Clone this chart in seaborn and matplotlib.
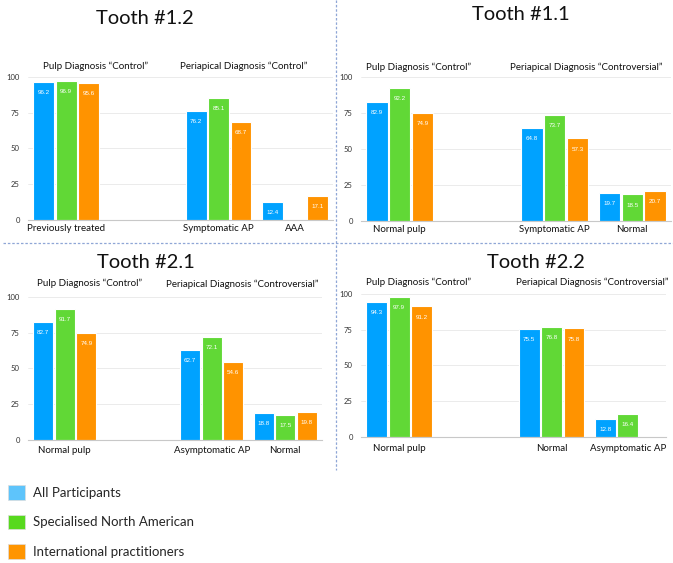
import matplotlib
matplotlib.use("Agg")
import matplotlib.pyplot as plt
from matplotlib.patches import Patch
from matplotlib.lines import Line2D
import seaborn as sns
import pandas as pd

# ---------------- data ----------------
groups = ["All Participants", "Specialised North American", "International practitioners"]
bar_colors = ["#00A2FF", "#61D836", "#FF9300"]
legend_colors = ["#5EC4FB", "#57D91E", "#FF9500"]

t12_title = "Tooth #1.2"
t12_cats = ["Previously treated", "Symptomatic AP", "AAA"]
t12_all = [96.2, 76.2, 12.4]
t12_na = [96.9, 85.1, None]
t12_int = [95.6, 68.7, 17.1]
t12_sub = ["Pulp Diagnosis \u201cControl\u201d", "Periapical Diagnosis \u201cControl\u201d"]

t11_title = "Tooth #1.1"
t11_cats = ["Normal pulp", "Symptomatic AP", "Normal"]
t11_all = [82.9, 64.8, 19.7]
t11_na = [92.2, 73.7, 18.5]
t11_int = [74.9, 57.3, 20.7]
t11_sub = ["Pulp Diagnosis \u201cControl\u201d", "Periapical Diagnosis \u201cControversial\u201d"]

t21_title = "Tooth #2.1"
t21_cats = ["Normal pulp", "Asymptomatic AP", "Normal"]
t21_all = [82.7, 62.7, 18.8]
t21_na = [91.7, 72.1, 17.5]
t21_int = [74.9, 54.6, 19.8]
t21_sub = ["Pulp Diagnosis \u201cControl\u201d", "Periapical Diagnosis \u201cControversial\u201d"]

t22_title = "Tooth #2.2"
t22_cats = ["Normal pulp", "Normal", "Asymptomatic AP"]
t22_all = [94.3, 75.5, 12.8]
t22_na = [97.9, 76.8, 16.4]
t22_int = [91.2, 75.8, None]
t22_sub = ["Pulp Diagnosis \u201cControl\u201d", "Periapical Diagnosis \u201cControversial\u201d"]

y_ticks = [0, 25, 50, 75, 100]

# ---------------- style ----------------
sns.set_style("white")
plt.rcParams["font.family"] = ["Lato", "DejaVu Sans"]

W, H = 673, 563
fig = plt.figure(figsize=(W / 100, H / 100), dpi=100)


def px_ax(l, r, y0, y100):
    # pixel box -> figure fraction
    return [l / W, 1 - y0 / H, (r - l) / W, (y0 - y100) / H]


panels = [
    dict(title=t12_title, cats=t12_cats, vals=[t12_all, t12_na, t12_int], sub=t12_sub,
         box=px_ax(28, 333, 220, 76), tpos=(145, 18), spos=[(96, 66), (244, 66)], pad=3),
    dict(title=t11_title, cats=t11_cats, vals=[t11_all, t11_na, t11_int], sub=t11_sub,
         box=px_ax(361, 671, 221, 76), tpos=(521, 15), spos=[(419, 67), (586, 67)], pad=3),
    dict(title=t21_title, cats=t21_cats, vals=[t21_all, t21_na, t21_int], sub=t21_sub,
         box=px_ax(28, 322, 440, 296), tpos=(146, 263), spos=[(90, 283), (242, 284)], pad=4),
    dict(title=t22_title, cats=t22_cats, vals=[t22_all, t22_na, t22_int], sub=t22_sub,
         box=px_ax(361, 666, 437, 293), tpos=(536, 262), spos=[(419, 282), (592, 282)], pad=5),
]

for p in panels:
    ax = fig.add_axes(p["box"])
    rows = []
    for g, series in zip(groups, p["vals"]):
        for c, v in zip(p["cats"], series):
            if v is not None:
                rows.append({"cat": c, "group": g, "value": v})
    df = pd.DataFrame(rows)
    order = [p["cats"][0], " ", p["cats"][1], p["cats"][2]]
    sns.barplot(data=df, x="cat", y="value", hue="group", order=order,
                hue_order=groups, palette=bar_colors, saturation=1, width=0.88, gap=0.07,
                edgecolor="white", linewidth=0.8, legend=False, ax=ax)
    for cont in ax.containers:
        ax.bar_label(cont, fmt="%.1f", label_type="edge", padding=-9.5,
                     color="white", fontsize=4.5, family=["Liberation Sans"])
    ax.set_xlim(-0.5, 3.5)
    ax.set_ylim(0, 100.6)
    ax.set_yticks(y_ticks)
    ax.set_yticklabels([str(t) for t in y_ticks])
    ax.set_xlabel("")
    ax.set_ylabel("")
    ax.grid(axis="y", color="#e8e8e8", linewidth=0.6)
    ax.set_axisbelow(True)
    for s in ["top", "right", "left"]:
        ax.spines[s].set_visible(False)
    ax.spines["bottom"].set_color("#c8c8c8")
    ax.spines["bottom"].set_linewidth(0.8)
    ax.tick_params(axis="y", length=0, labelsize=5.5, labelcolor="#333333", pad=6)
    ax.tick_params(axis="x", length=0, labelsize=7, labelcolor="#111111", pad=p["pad"])
    fig.text(p["tpos"][0] / W, 1 - p["tpos"][1] / H, p["title"], ha="center", va="center",
             fontsize=14.5, color="#111111")
    for (sx, sy), st in zip(p["spos"], p["sub"]):
        fig.text(sx / W, 1 - sy / H, st, ha="center", va="center", fontsize=7,
                 color="#111111")

# dashed dividers
fig.add_artist(Line2D([0.005, 1.0], [1 - 243 / H, 1 - 243 / H], transform=fig.transFigure,
                      color="#8FA6D6", linewidth=0.9, linestyle=(0, (2, 1.5))))
fig.add_artist(Line2D([336 / W, 336 / W], [1.0, 1 - 470 / H], transform=fig.transFigure,
                      color="#8FA6D6", linewidth=0.9, linestyle=(0, (2, 1.5))))

# legend
handles = [Patch(facecolor=c, edgecolor="#dddddd", linewidth=0.5) for c in legend_colors]
fig.legend(handles, groups, loc="upper left", bbox_to_anchor=(-0.002, 1 - 476 / H),
           frameon=False, fontsize=9.5, handlelength=1.3, handleheight=1.3,
           labelspacing=1.15, handletextpad=0.6, borderaxespad=0.3)

fig.savefig("out.png", dpi=100)
